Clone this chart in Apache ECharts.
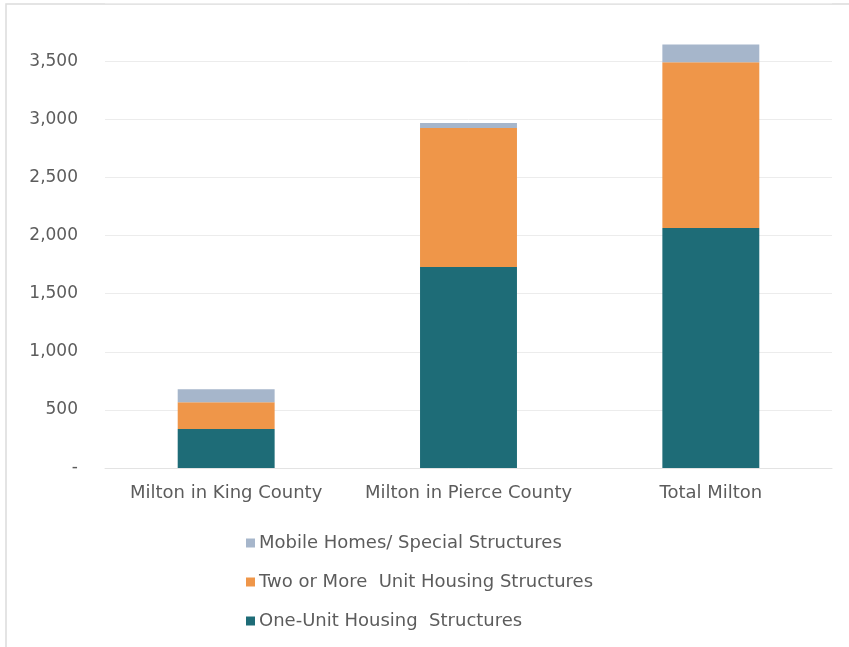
<!DOCTYPE html>
<html>
<head>
<meta charset="utf-8">
<script src="https://cdn.jsdelivr.net/npm/echarts@6/dist/echarts.min.js"></script>
<style>
  html, body { margin: 0; padding: 0; background: #ffffff; }
  #chart { width: 849px; height: 647px; }
</style>
</head>
<body>
<div id="chart"></div>
<script>
// Housing units by structure type, Milton
const categories = ['Milton in King County', 'Milton in Pierce County', 'Total Milton'];
const oneUnit = [335, 1730, 2065];
const twoOrMore = [230, 1195, 1425];
const mobileHomes = [112, 42, 154];
const yTicks = [0, 500, 1000, 1500, 2000, 2500, 3000, 3500];

const seriesNames = {
  one: 'One-Unit Housing  Structures',
  two: 'Two or More  Unit Housing Structures',
  mobile: 'Mobile Homes/ Special Structures'
};

const font = 'DejaVu Sans';
const textColor = '#5c5c5c';

const chart = echarts.init(document.getElementById('chart'));
chart.setOption({
  animation: false,
  backgroundColor: '#ffffff',
  textStyle: { fontFamily: font },
  graphic: [{
    type: 'rect',
    shape: { x: 6, y: 4, width: 860, height: 660 },
    style: { fill: 'none', stroke: '#dcdcdc', lineWidth: 1.5 },
    silent: true
  }],
  grid: { left: 105, right: 17, top: 3, bottom: 179, containLabel: false },
  legend: {
    orient: 'vertical',
    left: 241,
    top: 529,
    itemWidth: 9,
    itemHeight: 9,
    itemGap: 21,
    icon: 'rect',
    data: [seriesNames.mobile, seriesNames.two, seriesNames.one],
    textStyle: { color: textColor, fontSize: 18, fontFamily: font, padding: [0, 0, 0, -1] }
  },
  xAxis: {
    type: 'category',
    data: categories,
    axisLine: { show: true, lineStyle: { color: '#e3e3e3' } },
    axisTick: { show: false },
    axisLabel: { color: textColor, fontSize: 18, margin: 16, interval: 0, hideOverlap: false }
  },
  yAxis: {
    type: 'value',
    min: 0,
    max: 4000,
    interval: 500,
    axisLine: { show: false },
    axisTick: { show: false },
    splitLine: { lineStyle: { color: '#ececec', width: 1 } },
    axisLabel: {
      color: textColor,
      fontSize: 17,
      margin: 27,
      formatter: function (v) {
        if (v === 0) return '-';
        if (yTicks.indexOf(v) < 0) return '';
        return v.toLocaleString('en-US');
      }
    }
  },
  series: [
    {
      name: seriesNames.one, type: 'bar', stack: 'units', barWidth: '40%',
      itemStyle: { color: '#1e6c77' }, data: oneUnit
    },
    {
      name: seriesNames.two, type: 'bar', stack: 'units', barWidth: '40%',
      itemStyle: { color: '#ef9649' }, data: twoOrMore
    },
    {
      name: seriesNames.mobile, type: 'bar', stack: 'units', barWidth: '40%',
      itemStyle: { color: '#a6b6cb' }, data: mobileHomes
    }
  ]
});
</script>
</body>
</html>
